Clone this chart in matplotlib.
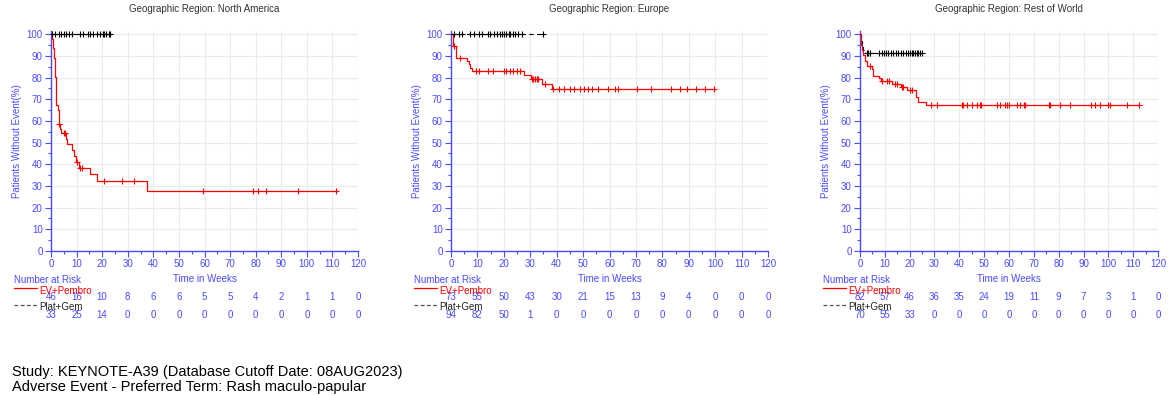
import numpy as np
import matplotlib
matplotlib.use("Agg")
import matplotlib.pyplot as plt
from matplotlib.ticker import MultipleLocator
from matplotlib import transforms

plt.rcParams["font.family"] = ["Liberation Sans", "DejaVu Sans"]

# ─────────────────────────────────────────────────────────────
# 데이터 (KM 단계: 사건 시점 / 사건 후 생존율, 중도절단 시점)
# ─────────────────────────────────────────────────────────────
REGIONS = ["North America", "Europe", "Rest of World"]
TIME_TICKS = list(range(0, 130, 10))

# North America
na_ev_t = [0.4, 0.9, 1.1, 1.4, 1.8, 2.1, 2.6, 3.0, 3.4, 4.0, 6.0, 6.3, 8.2, 9.1, 9.6, 10.8, 15.3, 18.1, 37.7]
na_ev_s = [97.8, 93.5, 89.1, 80.4, 76.1, 67.4, 65.2, 58.7, 56.5, 54.3, 51.9, 49.5, 46.6, 43.8, 41.1, 38.5, 35.3, 32.1, 27.5]
na_ev_c = [3.1, 5.2, 5.6, 10.2, 11.5, 12.3, 20.7, 27.6, 32.5, 59.4, 78.8, 81.0, 84.1, 96.4, 111.3]
na_pg_t = []
na_pg_s = []
na_pg_c = [0.4, 1.7, 3.0, 4.0, 5.0, 6.0, 6.9, 8.2, 11.4, 12.5, 14.3, 15.3, 16.6, 17.9, 19.3, 20.3, 20.8, 21.6, 22.5, 23.2]
na_ev_risk = [46, 16, 10, 8, 6, 6, 5, 5, 4, 2, 1, 1, 0]
na_pg_risk = [33, 25, 14, 0, 0, 0, 0, 0, 0, 0, 0, 0, 0]

# Europe
eu_ev_t = [0.75, 2.0, 6.0, 6.8, 7.3, 7.8, 27.7, 30.2, 34.3, 38.3]
eu_ev_s = [94.5, 89.0, 87.6, 86.2, 84.5, 83.0, 81.0, 79.2, 77.0, 74.7]
eu_ev_c = [1.2, 3.3, 9.5, 10.5, 14.0, 16.0, 20.0, 21.0, 22.3, 23.5, 25.0, 26.2,
           30.6, 31.2, 31.8, 32.4, 33.0, 35.5, 38.8, 40.7, 42.6, 45.1, 46.6, 48.9,
           50.4, 51.8, 53.5, 55.8, 59.6, 62.1, 63.4, 70.5, 75.6, 83.1, 86.6, 89.4, 92.7, 96.1, 99.5]
eu_pg_t = []
eu_pg_s = []
eu_pg_c = [1.0, 2.9, 4.2, 7.3, 8.6, 10.5, 11.7, 13.9, 14.9, 16.1, 17.4, 18.4, 19.3,
           20.1, 20.9, 21.8, 22.4, 23.4, 24.3, 25.2, 26.8, 35.0]
eu_ev_risk = [73, 55, 50, 43, 30, 21, 15, 13, 9, 4, 0, 0, 0]
eu_pg_risk = [94, 82, 50, 1, 0, 0, 0, 0, 0, 0, 0, 0, 0]

# Rest of World
rw_ev_t = [0.3, 0.6, 1.0, 1.4, 2.0, 3.0, 5.0, 5.4, 7.5, 8.5, 13.0, 16.5, 19.0, 22.5, 23.5, 26.5]
rw_ev_s = [97.6, 95.1, 92.7, 90.2, 87.8, 85.4, 84.1, 80.9, 79.6, 78.4, 77.0, 75.6, 74.1, 70.9, 68.9, 67.2]
rw_ev_c = [4.2, 8.9, 11.0, 11.6, 14.0, 15.0, 17.0, 17.5, 20.2, 21.0, 28.5, 31.2, 41.0,
           41.4, 43.0, 45.0, 47.0, 48.4, 48.6, 55.3, 56.5, 58.5, 59.2, 59.8, 63.2,
           64.5, 66.1, 66.5, 76.0, 76.4, 80.4, 84.4, 93.1, 94.7, 96.7, 100.0, 100.8, 107.6, 112.5]
rw_pg_t = [0.4, 0.8, 1.2, 1.9]
rw_pg_s = [97.1, 95.7, 92.9, 91.4]
rw_pg_c = [2.7, 3.4, 4.0, 7.8, 8.7, 9.7, 10.5, 11.4, 12.4, 13.4, 14.5, 15.5, 16.4,
           17.5, 18.5, 19.5, 20.2, 20.8, 21.5, 22.2, 22.8, 23.5, 24.2, 24.9]
rw_ev_risk = [82, 57, 46, 36, 35, 24, 19, 11, 9, 7, 3, 1, 0]
rw_pg_risk = [70, 55, 33, 0, 0, 0, 0, 0, 0, 0, 0, 0, 0]

# 패널 배치 (px)
W, H = 1168, 396
PANEL_X = [(51, 358), (451, 768), (860, 1158)]
AX_TOP, AX_BOT = 31, 251

BLUE = "#4a4aff"
RED = "#ff0000"


def km_curve(ev_t, ev_s, cens):
    end = max([0] + list(ev_t) + list(cens))
    t = [0] + list(ev_t) + [end]
    s = [100] + list(ev_s) + [([100] + list(ev_s))[-1]]
    t_arr = np.array([0] + list(ev_t))
    s_arr = np.array([100] + list(ev_s))
    idx = np.searchsorted(t_arr, np.array(cens), side="right") - 1
    return t, s, np.array(cens), s_arr[idx]


fig = plt.figure(figsize=(W / 100, H / 100), dpi=100)

panels = [
    (na_ev_t, na_ev_s, na_ev_c, na_pg_t, na_pg_s, na_pg_c, na_ev_risk, na_pg_risk),
    (eu_ev_t, eu_ev_s, eu_ev_c, eu_pg_t, eu_pg_s, eu_pg_c, eu_ev_risk, eu_pg_risk),
    (rw_ev_t, rw_ev_s, rw_ev_c, rw_pg_t, rw_pg_s, rw_pg_c, rw_ev_risk, rw_pg_risk),
]

for (x0, x1), region, p in zip(PANEL_X, REGIONS, panels):
    ev_t, ev_s, ev_c, pg_t, pg_s, pg_c, ev_r, pg_r = p
    ax = fig.add_axes([x0 / W, 1 - AX_BOT / H, (x1 - x0) / W, (AX_BOT - AX_TOP) / H])
    ax.set_xlim(0, 120)
    ax.set_ylim(0, 101.5)

    # Plat+Gem (검정 점선)
    t, s, ct, cs = km_curve(pg_t, pg_s, pg_c)
    ax.step(t, s, where="post", color="black", linestyle=(0, (4, 3)), linewidth=0.8, zorder=3)
    ax.plot(ct, cs, linestyle="none", marker="+", color="black", markersize=4, mew=0.8, zorder=4)

    # EV+Pembro (빨강 실선)
    t, s, ct, cs = km_curve(ev_t, ev_s, ev_c)
    ax.step(t, s, where="post", color=RED, linewidth=0.9, zorder=3)
    ax.plot(ct, cs, linestyle="none", marker="+", color=RED, markersize=4, mew=0.8, zorder=4)

    ax.xaxis.set_major_locator(MultipleLocator(10))
    ax.xaxis.set_minor_locator(MultipleLocator(5))
    ax.yaxis.set_major_locator(MultipleLocator(10))
    ax.yaxis.set_minor_locator(MultipleLocator(5))
    ax.grid(True, which="major", color="#ebebeb", linewidth=0.8, zorder=0)
    ax.set_axisbelow(True)
    for side in ["top", "right"]:
        ax.spines[side].set_visible(False)
    for side in ["left", "bottom"]:
        ax.spines[side].set_color(BLUE)
        ax.spines[side].set_linewidth(1.0)
    ax.tick_params(which="both", colors=BLUE, labelcolor=BLUE, labelsize=7, width=0.8)
    ax.tick_params(which="major", length=4, pad=2)
    ax.tick_params(which="minor", length=2.5)

    ax.set_title(f"Geographic Region: {region}", fontsize=7, color="#333333", pad=14)
    ax.set_ylabel("Patients Without Event(%)", fontsize=7, color=BLUE, labelpad=3)
    ax.set_xlabel("Time in Weeks", fontsize=7, color=BLUE, labelpad=3)

    # Number at Risk
    trans = transforms.blended_transform_factory(ax.transData, fig.transFigure)
    fx = lambda px: px / W
    fy = lambda py: 1 - py / H
    fig.text(fx(x0 - 37), fy(280), "Number at Risk", fontsize=7, color=BLUE, va="center", ha="left")
    fig.add_artist(plt.Line2D([fx(x0 - 37), fx(x0 - 14)], [fy(288), fy(288)], color=RED, linewidth=0.9))
    fig.text(fx(x0 - 12), fy(290.5), "EV+Pembro", fontsize=7, color=RED, va="center", ha="left")
    fig.add_artist(plt.Line2D([fx(x0 - 37), fx(x0 - 14)], [fy(305), fy(305)], color="#555555",
                              linewidth=0.9, linestyle=(0, (3, 2))))
    fig.text(fx(x0 - 12), fy(307), "Plat+Gem", fontsize=7, color="#222222", va="center", ha="left")
    for xt, r1, r2 in zip(TIME_TICKS, ev_r, pg_r):
        ax.text(xt, fy(297.5), str(r1), transform=trans, fontsize=7, color=BLUE, ha="center", va="center")
        ax.text(xt, fy(314.5), str(r2), transform=trans, fontsize=7, color=BLUE, ha="center", va="center")

fig.text(12 / W, 1 - 372 / H, "Study: KEYNOTE-A39 (Database Cutoff Date: 08AUG2023)",
         fontsize=10.5, color="black", va="center", ha="left")
fig.text(12 / W, 1 - 387 / H, "Adverse Event - Preferred Term: Rash maculo-papular",
         fontsize=10.5, color="black", va="center", ha="left")

fig.savefig("out.png", dpi=100)
